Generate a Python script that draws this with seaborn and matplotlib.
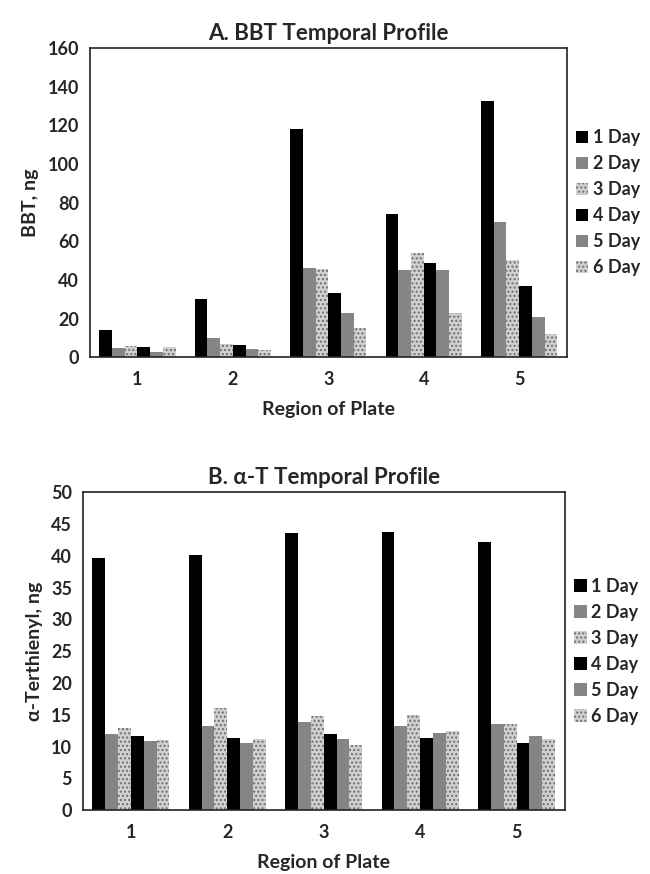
import numpy as np
import pandas as pd
import matplotlib
matplotlib.use('Agg')
import matplotlib.pyplot as plt
import seaborn as sns
from matplotlib.patches import Patch

# Datos
regiones = ['1', '2', '3', '4', '5']
dias = ['1 Day', '2 Day', '3 Day', '4 Day', '5 Day', '6 Day']

# A. BBT (ng), una lista por día, valores por región
bbt_1 = [14.3, 30.2, 118.2, 74.1, 132.7]
bbt_2 = [4.9, 10.0, 46.2, 45.0, 70.0]
bbt_3 = [6.0, 6.9, 45.7, 54.0, 50.5]
bbt_4 = [5.4, 6.6, 33.3, 48.9, 36.7]
bbt_5 = [3.0, 4.5, 22.9, 45.0, 20.9]
bbt_6 = [5.2, 4.0, 15.0, 22.9, 12.1]

# B. alfa-tertienilo (ng)
at_1 = [39.6, 40.1, 43.6, 43.7, 42.2]
at_2 = [11.9, 13.2, 13.8, 13.3, 13.5]
at_3 = [12.9, 16.1, 14.8, 15.0, 13.5]
at_4 = [11.7, 11.4, 11.9, 11.4, 10.6]
at_5 = [10.8, 10.5, 11.2, 12.2, 11.7]
at_6 = [11.1, 11.2, 10.3, 12.4, 11.2]

colores = ['#000000', '#858585', '#d0d0d0', '#000000', '#858585', '#d0d0d0']
tramas = [None, None, '....', None, None, '....']


def armar_df(series):
    filas = []
    for dia, valores in zip(dias, series):
        for reg, v in zip(regiones, valores):
            filas.append({'region': reg, 'dia': dia, 'valor': v})
    return pd.DataFrame(filas)


def dibujar(ax, df, titulo, ylabel, ymax, paso):
    sns.barplot(data=df, x='region', y='valor', hue='dia', hue_order=dias,
                palette=colores, width=0.8, gap=0, ax=ax, legend=False,
                edgecolor='none', linewidth=0)
    for cont, trama in zip(ax.containers, tramas):
        if trama:
            for barra in cont:
                barra.set_hatch(trama)
                barra.set_edgecolor('#6e6e6e')
                barra.set_linewidth(0)
    ax.set_ylim(0, ymax)
    ax.set_yticks(np.arange(0, ymax + 0.1, paso))
    ax.set_title(titulo, fontsize=16, fontweight='bold', pad=6)
    ax.set_xlabel('Region of Plate', fontsize=14, fontweight='bold', labelpad=9)
    ax.set_ylabel(ylabel, fontsize=14, fontweight='bold', labelpad=6)
    ax.tick_params(axis='y', direction='out', length=4, width=1, labelsize=13)
    ax.tick_params(axis='x', length=0, labelsize=13, pad=10)
    for lbl in ax.get_xticklabels() + ax.get_yticklabels():
        lbl.set_fontweight('bold')
    for sp in ax.spines.values():
        sp.set_visible(True)
        sp.set_color('#222222')
        sp.set_linewidth(1.2)

    manejadores = []
    for dia, c, t in zip(dias, colores, tramas):
        manejadores.append(Patch(facecolor=c, edgecolor='#6e6e6e' if t else c,
                                 hatch=t, linewidth=0, label=dia))
    ax.legend(handles=manejadores, loc='center left', bbox_to_anchor=(1.0, 0.5),
              frameon=False, prop={'weight': 'bold', 'size': 13},
              handlelength=0.7, handleheight=0.7, handletextpad=0.25,
              labelspacing=0.5, borderaxespad=0.3, borderpad=0.2)


sns.set_style('white')
plt.rcParams['font.family'] = ['Lato', 'DejaVu Sans']
plt.rcParams['hatch.linewidth'] = 1.0

fig = plt.figure(figsize=(6.5, 8.74), dpi=100)
ax1 = fig.add_axes([0.138, 0.591, 0.734, 0.354])
ax2 = fig.add_axes([0.127, 0.073, 0.742, 0.364])

df_bbt = armar_df([bbt_1, bbt_2, bbt_3, bbt_4, bbt_5, bbt_6])
df_at = armar_df([at_1, at_2, at_3, at_4, at_5, at_6])

dibujar(ax1, df_bbt, 'A. BBT Temporal Profile', 'BBT, ng', 160, 20)
dibujar(ax2, df_at, 'B. α-T Temporal Profile', 'α-Terthienyl, ng', 50, 5)

fig.savefig('out.png', dpi=100)
